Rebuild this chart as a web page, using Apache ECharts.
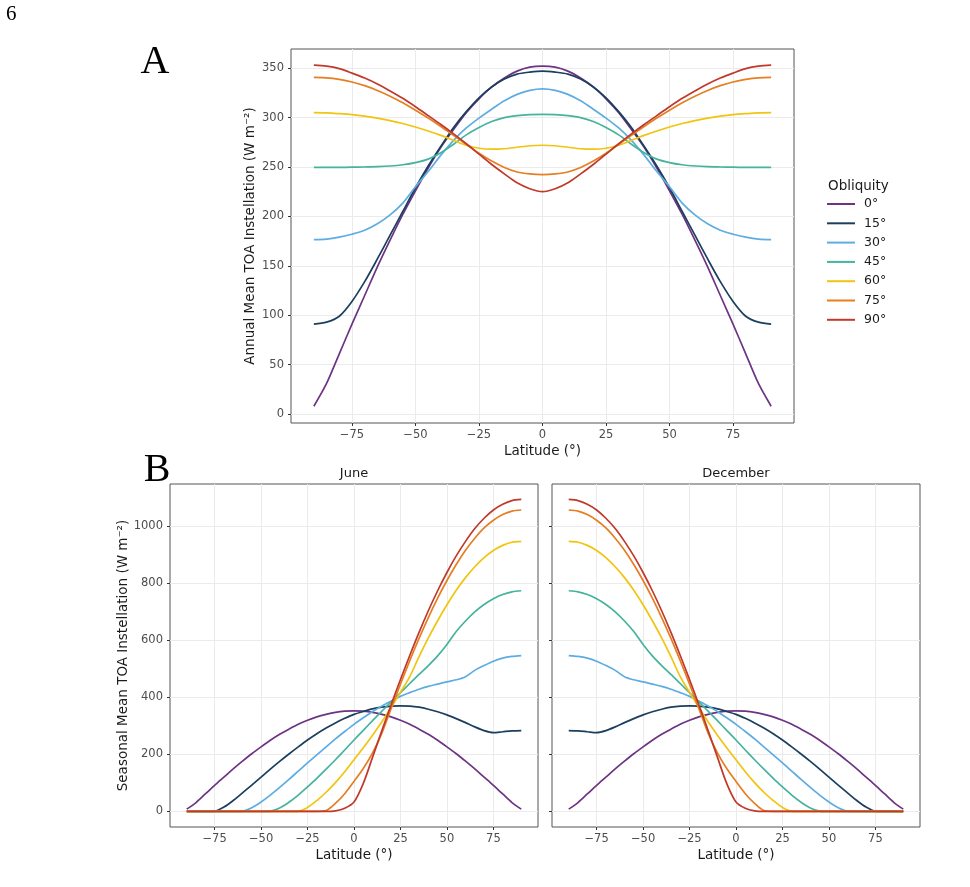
<!DOCTYPE html>
<html>
<head>
<meta charset="utf-8">
<script src="https://cdn.jsdelivr.net/npm/echarts@6/dist/echarts.min.js"></script>
<style>
  body { margin: 0; background: #fff; }
  #chart { width: 970px; height: 887px; }
</style>
</head>
<body>
<div id="chart"></div>
<script>
// latitude grid and obliquity classes
const lat = [-90,-85,-80,-75,-70,-65,-60,-55,-50,-45,-40,-35,-30,-25,-20,-15,-10,-5,0,5,10,15,20,25,30,35,40,45,50,55,60,65,70,75,80,85,90];
const obliq = ['0°', '15°', '30°', '45°', '60°', '75°', '90°'];
const colors = ['#6c3483', '#1b3f5e', '#5dade2', '#45b39d', '#f1c40f', '#e67e22', '#c0392b'];

const latTicks = [-75, -50, -25, 0, 25, 50, 75];
const annualTicks = [0, 50, 100, 150, 200, 250, 300, 350];
const seasonTicks = [0, 200, 400, 600, 800, 1000];

// A: annual mean TOA instellation (W m-2)
const annual0  = [8,31,61,91,120,149,176,202,226,249,270,288,305,319,331,340,347,351,352,351,347,340,331,319,305,288,270,249,226,202,176,149,120,91,61,31,8];
const annual15 = [91,93,99,114,134,157,181,205,229,251,271,290,306,320,331,339,344,346,347,346,344,339,331,320,306,290,271,251,229,205,181,157,134,114,99,93,91];
const annual30 = [176.5,177,179,182,186,192.5,201.5,213.5,230,245.5,262,277,289.5,299.5,308.5,317,323.5,327.5,329,327.5,323.5,317,308.5,299.5,289.5,277,262,245.5,230,213.5,201.5,192.5,186,182,179,177,176.5];
const annual45 = [249.7,249.7,249.7,249.8,250,250.3,251,252.3,254.5,258,264.5,273,282.5,290,296,300,302,303,303.3,303,302,300,296,290,282.5,273,264.5,258,254.5,252.3,251,250.3,250,249.8,249.7,249.7,249.7];
const annual60 = [305,304.8,304,303,301.5,299.5,297,294,290.5,286.5,282,277,272,269,268,268.5,270,271.5,272,271.5,270,268.5,268,269,272,277,282,286.5,290.5,294,297,299.5,301.5,303,304,304.8,305];
const annual75 = [340.6,340.2,338.6,336,332.3,327.5,321.7,315,307.5,299.5,291,282,273,264,256,249.5,245,243,242.3,243,245,249.5,256,264,273,282,291,299.5,307.5,315,321.7,327.5,332.3,336,338.6,340.2,340.6];
const annual90 = [353,352,349.5,345,340,334,327,319.5,311,302,293,283.5,273.5,263,252.5,243,234,228,225,228,234,243,252.5,263,273.5,283.5,293,302,311,319.5,327,334,340,345,349.5,352,353];

// B: seasonal mean TOA instellation, June
const june0  = [8,31,61,91,120,149,176,202,226,249,270,288,305,319,331,340,347,351,352,351,347,340,331,319,305,288,270,249,226,202,176,149,120,91,61,31,8];
const june15 = [0,0,0,1,15,38,65,92,120,148,175,201,226,250,272,292,310,326,340,350,359,365,369,370,369,365,358,349,338,325,311,296,283,276,279,282,283];
const june30 = [0,0,0,0,0,0,1,13,33,57,84,112,141,170,198,226,254,280,305,328,350,369,387,403,416,428,438,446,454,461,472,494,511,526,537,543,546];
const june45 = [0,0,0,0,0,0,0,0,0,1,12,32,57,86,116,148,181,215,250,284,318,351,384,416,448,480,511,545,585,630,667,699,725,745,760,769,773];
const june60 = [0,0,0,0,0,0,0,0,0,0,0,0,1,14,38,67,101,139,181,223,267,314,364,417,472,542,608,668,724,775,819,857,889,914,932,943,946];
const june75 = [0,0,0,0,0,0,0,0,0,0,0,0,0,0,0,3,28,62,105,150,205,274,361,446,528,606,679,747,809,865,915,957,993,1020,1040,1052,1056];
const june90 = [0,0,0,0,0,0,0,0,0,0,0,0,0,0,0,0,2,11,33,98,190,283,374,462,546,627,703,773,837,895,946,991,1027,1056,1076,1089,1093];

// B: seasonal mean TOA instellation, December
const dec0  = [8,31,61,91,120,149,176,202,226,249,270,288,305,319,331,340,347,351,352,351,347,340,331,319,305,288,270,249,226,202,176,149,120,91,61,31,8];
const dec15 = [283,282,279,276,283,296,311,325,338,349,358,365,369,370,369,365,359,350,340,326,310,292,272,250,226,201,175,148,120,92,65,38,15,1,0,0,0];
const dec30 = [546,543,537,526,511,494,472,461,454,446,438,428,416,403,387,369,350,328,305,280,254,226,198,170,141,112,84,57,33,13,1,0,0,0,0,0,0];
const dec45 = [773,769,760,745,725,699,667,630,585,545,511,480,448,416,384,351,318,284,250,215,181,148,116,86,57,32,12,1,0,0,0,0,0,0,0,0,0];
const dec60 = [946,943,932,914,889,857,819,775,724,668,608,542,472,417,364,314,267,223,181,139,101,67,38,14,1,0,0,0,0,0,0,0,0,0,0,0,0];
const dec75 = [1056,1052,1040,1020,993,957,915,865,809,747,679,606,528,446,361,274,205,150,105,62,28,3,0,0,0,0,0,0,0,0,0,0,0,0,0,0,0];
const dec90 = [1093,1089,1076,1056,1027,991,946,895,837,773,703,627,546,462,374,283,190,98,33,11,2,0,0,0,0,0,0,0,0,0,0,0,0,0,0,0,0];

const annual = [annual0, annual15, annual30, annual45, annual60, annual75, annual90];
const june = [june0, june15, june30, june45, june60, june75, june90];
const december = [dec0, dec15, dec30, dec45, dec60, dec75, dec90];

const FONT = 'DejaVu Sans';
const minus = v => String(v).replace('-', '\u2212');

function xAxis(idx) {
  return {
    type: 'value', gridIndex: idx, min: -99, max: 99,
    axisLine: { show: false, onZero: false },
    axisTick: { show: true, length: 3, customValues: latTicks, lineStyle: { color: '#333' } },
    axisLabel: { customValues: latTicks, formatter: minus, color: '#4d4d4d', fontSize: 11.5, fontFamily: FONT, margin: 6 },
    splitLine: { show: true, lineStyle: { color: '#ebebeb', width: 1 } },
    name: 'Latitude (°)', nameLocation: 'middle', nameGap: 21, nameMoveOverlap: false,
    nameTextStyle: { color: '#1a1a1a', fontSize: 13.5, fontFamily: FONT }
  };
}

function yAxis(idx, min, max, ticks, name, gap, labels) {
  return {
    type: 'value', gridIndex: idx, min: min, max: max,
    axisLine: { show: false, onZero: false },
    axisTick: { show: true, length: 3, customValues: ticks, lineStyle: { color: '#333' } },
    axisLabel: { show: labels, customValues: ticks, formatter: v => String(v), color: '#4d4d4d', fontSize: 11.5, fontFamily: FONT, margin: 7 },
    splitLine: { show: true, lineStyle: { color: '#ebebeb', width: 1 } },
    name: name, nameLocation: 'middle', nameGap: gap, nameMoveOverlap: false,
    nameTextStyle: { color: '#1a1a1a', fontSize: 13.5, fontFamily: FONT }
  };
}

function line(k, vals, idx) {
  return {
    name: obliq[k], type: 'line', xAxisIndex: idx, yAxisIndex: idx,
    data: lat.map((x, i) => [x, vals[i]]),
    symbol: 'none', showSymbol: false, silent: true,
    smooth: 0.3,
    lineStyle: { width: 1.7, color: colors[k] },
    itemStyle: { color: colors[k] }
  };
}

const series = [];
annual.forEach((v, k) => series.push(line(k, v, 0)));
june.forEach((v, k) => series.push(line(k, v, 1)));
december.forEach((v, k) => series.push(line(k, v, 2)));

const gridStyle = { show: true, borderColor: '#555', borderWidth: 1, backgroundColor: 'transparent' };

const chart = echarts.init(document.getElementById('chart'), null, { renderer: 'canvas' });
chart.setOption({
  animation: false,
  textStyle: { fontFamily: FONT },
  grid: [
    Object.assign({ left: 291, top: 49, width: 503, height: 374 }, gridStyle),
    Object.assign({ left: 170, top: 484, width: 368, height: 343 }, gridStyle),
    Object.assign({ left: 552, top: 484, width: 368, height: 343 }, gridStyle)
  ],
  xAxis: [xAxis(0), xAxis(1), xAxis(2)],
  yAxis: [
    yAxis(0, -9, 369.4, annualTicks, 'Annual Mean TOA Instellation (W m\u207B\u00B2)', 34, true),
    yAxis(1, -54.7, 1147, seasonTicks, 'Seasonal Mean TOA Instellation (W m\u207B\u00B2)', 40, true),
    yAxis(2, -54.7, 1147, seasonTicks, '', 0, false)
  ],
  legend: {
    data: obliq, orient: 'vertical', left: 827, top: 196, padding: 0,
    icon: 'rect', itemWidth: 28, itemHeight: 2, itemGap: 3.3,
    textStyle: { color: '#1a1a1a', fontSize: 12.5, fontFamily: FONT, lineHeight: 16, padding: [0, 0, 0, 4] },
    selectedMode: false
  },
  graphic: [
    { type: 'text', left: 6, top: 4, style: { text: '6', font: '21px "Liberation Serif"', fill: '#000' } },
    { type: 'text', x: 155, y: 62, style: { text: 'A', font: '40px "Liberation Serif"', fill: '#000', align: 'center', verticalAlign: 'middle' } },
    { type: 'text', x: 157, y: 470, style: { text: 'B', font: '40px "Liberation Serif"', fill: '#000', align: 'center', verticalAlign: 'middle' } },
    { type: 'text', x: 828, y: 186, style: { text: 'Obliquity', font: '13.5px "DejaVu Sans"', fill: '#1a1a1a', align: 'left', verticalAlign: 'middle' } },
    { type: 'text', x: 354, y: 474, style: { text: 'June', font: '13px "DejaVu Sans"', fill: '#1a1a1a', align: 'center', verticalAlign: 'middle' } },
    { type: 'text', x: 736, y: 474, style: { text: 'December', font: '13px "DejaVu Sans"', fill: '#1a1a1a', align: 'center', verticalAlign: 'middle' } }
  ],
  series: series
});
</script>
</body>
</html>
